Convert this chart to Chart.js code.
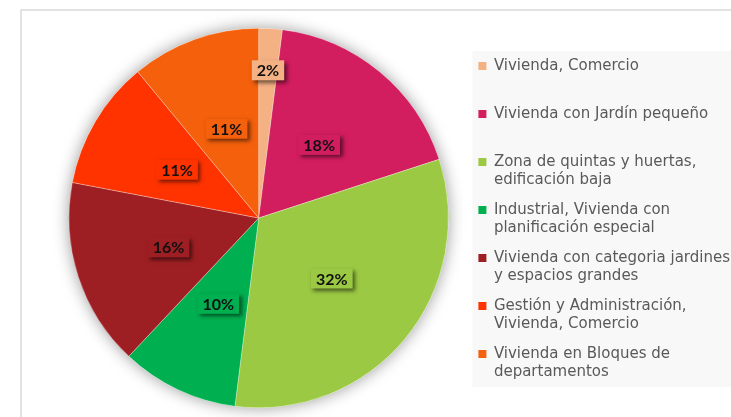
<!DOCTYPE html>
<html>
<head>
<meta charset="utf-8">
<script src="https://cdn.jsdelivr.net/npm/chart.js@4"></script>
<style>
  body { margin: 0; background: #fff; }
  canvas { display: block; }
</style>
</head>
<body>
<canvas id="Cnvs" width="731" height="417"></canvas>
<script>
  // categorias (cada una partida en lineas como en la leyenda)
  var categories = [
    ['Vivienda, Comercio'],
    ['Vivienda con Jardín pequeño'],
    ['Zona de quintas y huertas,', 'edificación baja'],
    ['Industrial, Vivienda con', 'planificación especial'],
    ['Vivienda con categoria jardines', 'y espacios grandes'],
    ['Gestión y Administración,', 'Vivienda, Comercio'],
    ['Vivienda en Bloques de', 'departamentos']
  ];
  var percents = [2, 18, 32, 10, 16, 11, 11];
  var colors = ['#F4B183', '#D21D5E', '#9BC943', '#00B050', '#9E1F23', '#FF3300', '#F4600C'];

  // fondo, borde del grafico y caja gris de la leyenda
  var frame = {
    id: 'frame',
    beforeDraw: function(chart) {
      var ctx = chart.ctx;
      var lg = chart.legend;
      ctx.save();
      ctx.fillStyle = '#ffffff';
      ctx.fillRect(0, 0, chart.width, chart.height);
      ctx.strokeStyle = '#d9d9d9';
      ctx.lineWidth = 1.5;
      ctx.strokeRect(21, 10, chart.width, chart.height);
      ctx.fillStyle = '#f8f8f8';
      ctx.fillRect(lg.left + 5, lg.top + 20, chart.width - lg.left, 336);
      ctx.restore();
    },
    afterLayout: function(chart) {
      chart.legend.top += 3;
      chart.legend.bottom += 3;
    },
    beforeDatasetsDraw: function(chart) {
      var arc = chart.getDatasetMeta(0).data[0];
      var ctx = chart.ctx;
      ctx.save();
      ctx.shadowColor = 'rgba(0,0,0,0.4)';
      ctx.shadowBlur = 16;
      ctx.fillStyle = '#ffffff';
      ctx.beginPath();
      ctx.arc(arc.x, arc.y, arc.outerRadius, 0, Math.PI * 2);
      ctx.fill();
      ctx.restore();
    }
  };

  // etiquetas de porcentaje con caja sombreada
  var pctLabels = {
    id: 'pctLabels',
    afterDatasetsDraw: function(chart) {
      var ctx = chart.ctx;
      var arcs = chart.getDatasetMeta(0).data;
      ctx.save();
      ctx.font = 'bold 16px Lato';
      ctx.textAlign = 'center';
      ctx.textBaseline = 'middle';
      arcs.forEach(function(a, i) {
        var v = percents[i];
        var mid = (a.startAngle + a.endAngle) / 2;
        var r = a.outerRadius * (v < 5 ? 0.78 : 0.5);
        var x = a.x + Math.cos(mid) * r;
        var y = a.y + Math.sin(mid) * r;
        var txt = v + '%';
        var w = ctx.measureText(txt).width + 10;
        var h = 20;
        ctx.save();
        ctx.shadowColor = 'rgba(0,0,0,0.55)';
        ctx.shadowBlur = 4;
        ctx.shadowOffsetX = 2.5;
        ctx.shadowOffsetY = 2.5;
        ctx.fillStyle = colors[i];
        ctx.fillRect(x - w / 2, y - h / 2, w, h);
        ctx.restore();
        ctx.fillStyle = '#111111';
        ctx.fillText(txt, x, y + 1);
      });
      ctx.restore();
    }
  };

  var pieChart = new Chart(document.getElementById('Cnvs').getContext('2d'), {
    type: 'pie',
    data: {
      labels: categories,
      datasets: [{
        data: percents,
        backgroundColor: colors,
        borderColor: 'rgba(255,255,255,0.6)',
        borderWidth: 0.5
      }]
    },
    options: {
      responsive: false,
      animation: false,
      devicePixelRatio: 1,
      layout: { padding: { left: 50, right: -9, top: 28, bottom: 9 } },
      plugins: {
        tooltip: { enabled: false },
        legend: {
          position: 'right',
          align: 'center',
          labels: {
            boxWidth: 8,
            boxHeight: 8,
            padding: 11,
            color: '#595959',
            font: { family: 'DejaVu Sans', size: 15, lineHeight: '18.5px' },
            generateLabels: function(chart) {
              var items = Chart.overrides.pie.plugins.legend.labels.generateLabels(chart);
              items.forEach(function(it, i) {
                var lines = categories[i].slice();
                while (lines.length < 2) lines.push('');
                it.text = lines;
                it.lineWidth = 0;
                it.strokeStyle = colors[i];
              });
              return items;
            }
          }
        }
      }
    },
    plugins: [frame, pctLabels]
  });
</script>
</body>
</html>
